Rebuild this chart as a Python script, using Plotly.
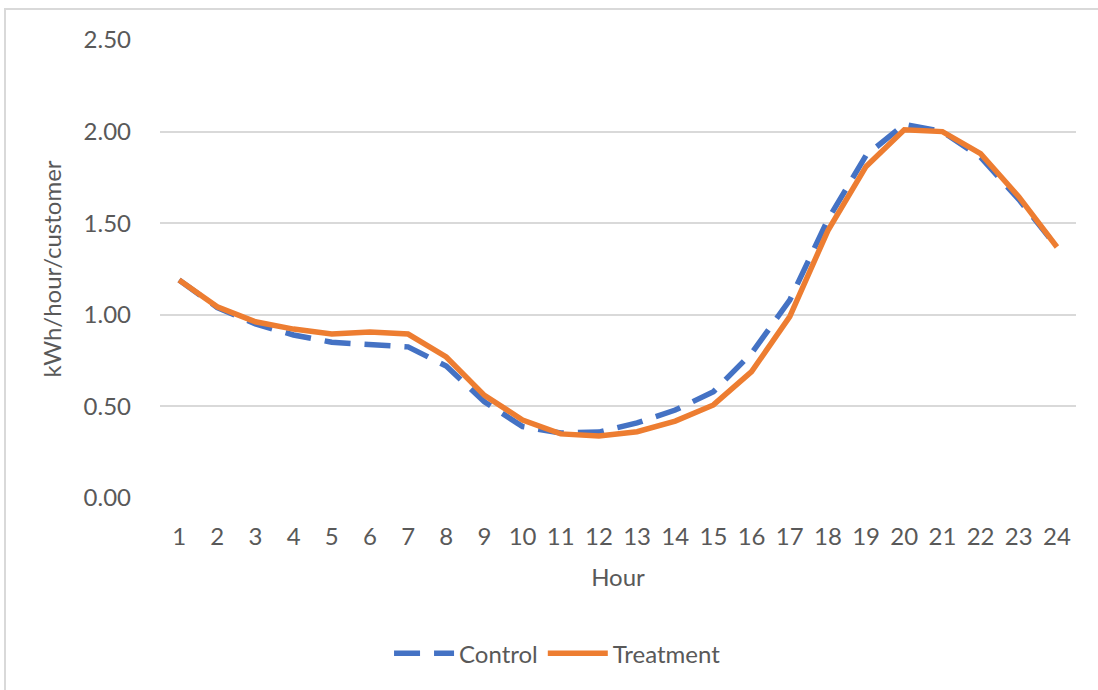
import plotly.graph_objects as go

hours = list(range(1, 25))
hour_labels = [str(h) for h in hours]
control = [1.19, 1.04, 0.95, 0.89, 0.85, 0.835, 0.825, 0.72, 0.525, 0.39, 0.355, 0.36,
           0.41, 0.48, 0.58, 0.79, 1.08, 1.52, 1.87, 2.04, 2.00, 1.86, 1.63, 1.37]
treatment = [1.19, 1.044, 0.962, 0.922, 0.895, 0.906, 0.895, 0.77, 0.56, 0.426, 0.35, 0.338,
             0.362, 0.42, 0.508, 0.69, 0.99, 1.46, 1.81, 2.01, 2.00, 1.88, 1.645, 1.37]
y_ticks = [0.0, 0.5, 1.0, 1.5, 2.0, 2.5]

FONT = "Lato"
TXT = "#595959"
FS = 24

fig = go.Figure()
fig.add_trace(go.Scatter(x=hour_labels, y=control, mode="lines", name="Control",
                         line=dict(color="#4472C4", width=5.5, dash="26px,14px")))
fig.add_trace(go.Scatter(x=hour_labels, y=treatment, mode="lines", name="Treatment",
                         line=dict(color="#ED7D31", width=5.5)))

fig.update_layout(
    width=1098, height=690,
    margin=dict(l=160, r=22, t=40, b=192),
    paper_bgcolor="white", plot_bgcolor="white",
    font=dict(family=FONT, color=TXT, size=FS),
    showlegend=True,
    legend=dict(orientation="h", x=0.434, xanchor="center", y=-0.34, yanchor="middle",
                font=dict(size=FS, color=TXT), itemwidth=60),
    xaxis=dict(type="category", range=[-0.5, 23.5], showgrid=False, zeroline=False,
               showline=False, ticks="", ticklabelstandoff=22,
               title=dict(text="Hour", font=dict(size=FS, color=TXT), standoff=20)),
    yaxis=dict(range=[0, 2.5], tickvals=y_ticks, tickformat=".2f",
               showgrid=True, gridcolor="#d9d9d9", gridwidth=1.5,
               zeroline=False, showline=False, ticks="", ticklabelstandoff=28,
               title=dict(text="kWh/hour/customer", font=dict(size=FS, color=TXT), standoff=15)),
    shapes=[dict(type="rect", xref="paper", yref="paper",
                 x0=(5 - 160) / 916, x1=(1200 - 160) / 916,
                 y0=(498 - 800) / 458, y1=(498 - 9) / 458,
                 line=dict(color="#d9d9d9", width=2), fillcolor="rgba(0,0,0,0)", layer="below")],
)

fig.write_html("out.html")
